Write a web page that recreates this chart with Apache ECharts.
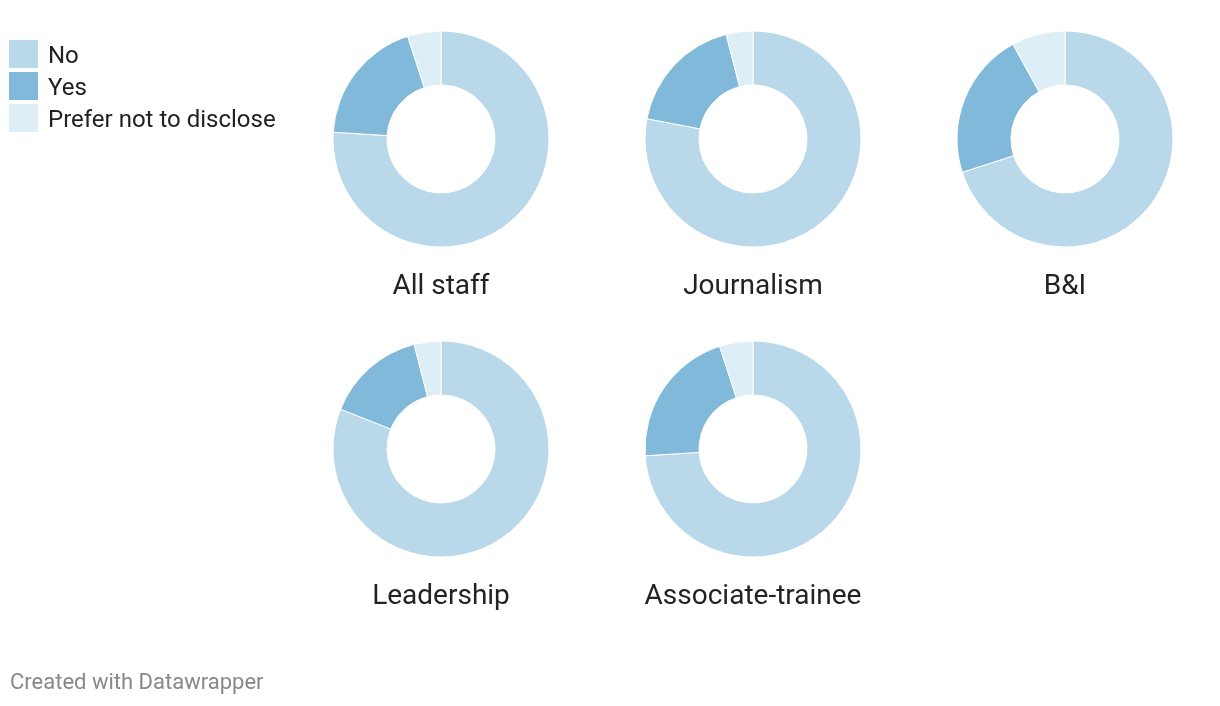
<!DOCTYPE html>
<html>
<head>
<meta charset="utf-8">
<script src="https://cdn.jsdelivr.net/npm/echarts@6/dist/echarts.min.js"></script>
<style>
html,body{margin:0;padding:0;background:#fff;}
#chart{width:1220px;height:706px;}
</style>
</head>
<body>
<div id="chart"></div>
<script>
const categories = ['No', 'Yes', 'Prefer not to disclose'];
const groups = ['All staff', 'Journalism', 'B&I', 'Leadership', 'Associate-trainee'];
const noValues = [76, 78, 70, 81, 74];
const yesValues = [19, 18, 22, 15, 21];
const preferValues = [5, 4, 8, 4, 5];
const colors = ['#b9d9ea', '#80b9d9', '#ddeef7'];

const centers = [[441,139],[753,139],[1065,139],[441,449],[753,449]];

const chart = echarts.init(document.getElementById('chart'));
const series = groups.map((g, i) => ({
  type: 'pie',
  name: g,
  center: centers[i],
  radius: [54, 108],
  startAngle: 90,
  clockwise: true,
  label: {show: false},
  labelLine: {show: false},
  emphasis: {disabled: true},
  animation: false,
  itemStyle: {borderColor: '#fff', borderWidth: 1},
  data: [
    {name: categories[0], value: noValues[i]},
    {name: categories[1], value: yesValues[i]},
    {name: categories[2], value: preferValues[i]}
  ]
}));
const texts = groups.map((g, i) => ({
  type: 'text',
  x: centers[i][0],
  y: centers[i][1] + 148,
  style: {
    text: g, align: 'center', verticalAlign: 'middle',
    font: '28px Roboto', fill: '#222'
  }
}));
texts.push({
  type: 'text', x: 10, y: 683,
  style: {text: 'Created with Datawrapper', align: 'left', verticalAlign: 'middle', font: '22px Roboto', fill: '#888'}
});
chart.setOption({
  color: colors,
  animation: false,
  graphic: texts,
  legend: {
    orient: 'vertical',
    left: 9,
    top: 39,
    padding: 0,
    itemWidth: 29,
    itemHeight: 28,
    itemGap: 2,
    icon: 'rect',
    selectedMode: false,
    data: categories,
    itemStyle: {borderWidth: 0},
    formatter: '{t|{name}}',
    textStyle: {
      fontFamily: 'Roboto', fontSize: 24, color: '#222',
      rich: {t: {fontFamily: 'Roboto', fontSize: 24, color: '#222', lineHeight: 22, padding: [6, 0, 0, 5]}}
    }
  },
  series: series
});
</script>
</body>
</html>
